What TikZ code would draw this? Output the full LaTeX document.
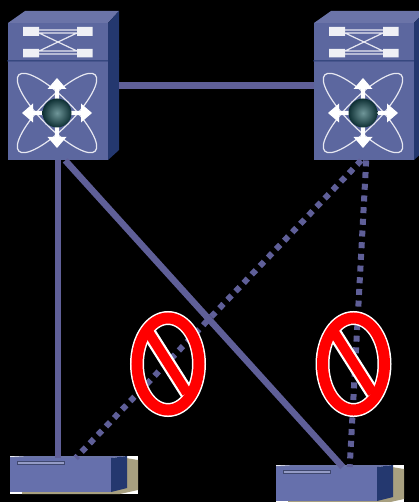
\documentclass[tikz,border=0pt]{standalone}
\usepackage{tikz}
\usetikzlibrary{positioning}
\definecolor{linkblue}{HTML}{5F5F98}
\definecolor{frontblue}{HTML}{5C679F}
\definecolor{topblue}{HTML}{6B74A8}
\definecolor{sideblue}{HTML}{24386F}
\definecolor{accessblue}{HTML}{6670AC}
\definecolor{shadowtan}{HTML}{A8A080}
\definecolor{globelight}{HTML}{6F9699}
\definecolor{globedark}{HTML}{0E3034}
\begin{document}
\begin{tikzpicture}[x=1pt,y=-1pt,
	corebox/.style={rectangle,fill=frontblue,minimum width=100pt,minimum height=137pt,inner sep=0pt,anchor=north west},
	accessbox/.style={rectangle,fill=accessblue,minimum width=101pt,minimum height=34pt,inner sep=0pt,anchor=north west},
	trunk/.style={draw=linkblue,line width=6.5pt},
	blocked/.style={draw=linkblue,line width=6pt,dash pattern=on 6pt off 5.7pt},
	glyph/.style={draw=white!85!frontblue,line width=1.2pt},
	coreswitch/.pic={
		\node (-box) [corebox] at (0,0) {};
		\fill [topblue] (0,0) -- (17,-12) -- (111,-12) -- (100,0) -- cycle;
		\fill [sideblue] (100,0) -- (111,-12) -- (111,127) -- (100,137) -- cycle;
		\draw [sideblue,line width=1pt] (-1,38) -- (100,38) -- (111,35);
		% switching fabric on top
		\fill [white!90!frontblue] (15,4) rectangle (31,13) (69,4) rectangle (84.5,13)
			(15,26) rectangle (31,34.5) (69,26) rectangle (84.5,34.5);
		\draw [glyph] (31,7) -- (69,7) (31,10) -- (69,10) (31,28) -- (69,28) (31,31) -- (69,31)
			(31,10) -- (69,28) (31,28) -- (69,10);
		% atom on the front
		\draw [glyph] (49,90) ellipse [x radius=54pt,y radius=15.5pt,rotate=45];
		\draw [glyph] (49,90) ellipse [x radius=54pt,y radius=15.5pt,rotate=-45];
		\foreach \ang in {0,90,180,270} {
			\fill [white,rotate around={\ang:(49,90)}] (46.8,90) -- (46.8,66) -- (39.5,66) -- (49,55)
				-- (58.5,66) -- (51.2,66) -- (51.2,90) -- cycle;
		}
		\shade [inner color=globelight,outer color=globedark] (49,90) circle (14.5pt);
	},
	accessswitch/.pic={
		\fill [white] (0,-2) rectangle (128,36);
		\fill [shadowtan] (12,36) -- (110,36) -- (128,32) -- (128,2) -- (116,0) -- (12,30) -- cycle;
		\node (-box) [accessbox] at (0,0) {};
		\fill [topblue] (0,-1) -- (18,-2) -- (117,-2) -- (101,0) -- (0,0) -- cycle;
		\fill [sideblue] (101,0) -- (117,-2) -- (117,30) -- (101,34) -- cycle;
		\draw [draw=frontblue!70!black,line width=0.8pt,fill=white!30!accessblue] (7,3) rectangle (54,6);
	},
	stopsign/.pic={
		\draw [white,line width=14pt] (0,0) ellipse [x radius=31pt,y radius=46pt];
		\draw [white,line width=14.5pt] (-19,-31) -- (19,29);
		\draw [red,line width=11pt] (0,0) ellipse [x radius=31pt,y radius=46pt];
		\draw [red,line width=10pt] (-19,-31) -- (19,29);
	}
]
\fill [black] (0,0) rectangle (419,502);
\useasboundingbox (0,0) rectangle (419,502);

\pic (coreL) at (8,23) {coreswitch};
\pic (coreR) at (314,23) {coreswitch};
\pic (accL) at (10,458) {accessswitch};
\pic (accR) at (276,467) {accessswitch};

\path ([xshift=11pt,yshift=6pt]coreL-box.east) edge [trunk] ([yshift=6pt]coreR-box.east -| coreR-box.west);
\draw [trunk] (coreL-box.south) -- (coreL-box.south |- accL-box.north);
\draw [trunk] ([xshift=7pt]coreL-box.south) -- ([xshift=16pt]accR-box.north);
\draw [blocked] ([xshift=-3pt]coreR-box.south) -- ([xshift=15pt]accL-box.north);
\draw [blocked] ([xshift=2pt]coreR-box.south) -- ([xshift=23pt]accR-box.north);

\pic at (168,364) {stopsign};
\pic at (353.5,364) {stopsign};
\end{tikzpicture}
\end{document}
